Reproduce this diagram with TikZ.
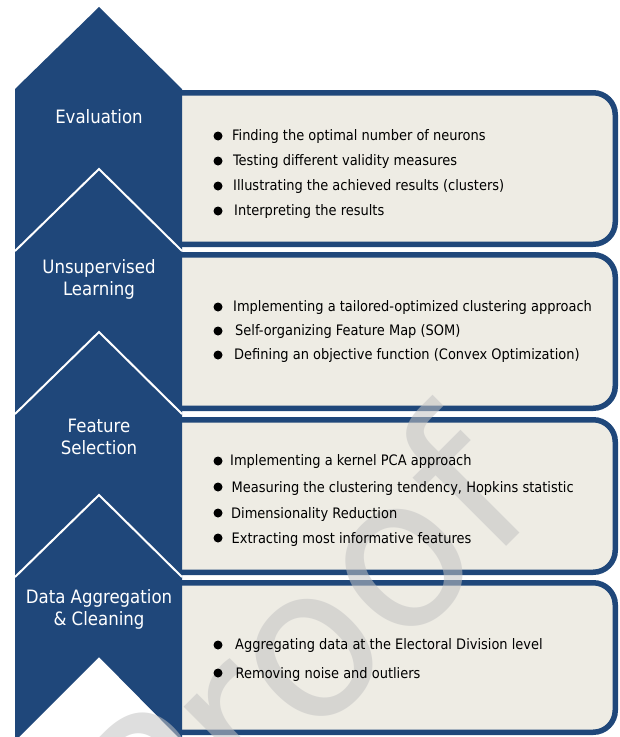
\documentclass[tikz,border=0pt]{standalone}
\usepackage{fontspec}
\setmainfont{DejaVu Sans Condensed}
\newfontfamily\wmfont{DejaVu Sans}
\definecolor{navy}{RGB}{31,71,122}
\definecolor{paper}{RGB}{238,236,228}
\definecolor{wmgrey}{RGB}{195,195,195}
\begin{document}
\begin{tikzpicture}[x=1bp,y=-1bp,
  lbl/.style={text=white, font=\fontsize{18.5}{22}\selectfont, align=center, inner sep=0},
  itm/.style={anchor=base west, font=\fontsize{14.5}{17}\selectfont, text=black, inner sep=0},
  bul/.style={circle, fill=black, inner sep=0, minimum size=9bp},
  panel/.style={draw=navy, line width=5.5bp, fill=paper, rounded corners=22bp},
  sepline/.style={draw=white, line width=2bp},
  wmk/.style={font=\wmfont\fontsize{210}{210}\selectfont, text=wmgrey, text opacity=0.55, inner sep=0}]
\useasboundingbox (0,0) rectangle (620,737);
\begin{scope}
\clip (0,0) rectangle (620,737);
% panels (left side hidden behind the column)
\path[panel] (182,92.75) -- (615.25,92.75) -- (615.25,244.25) -- (182,244.25);
\path[panel] (182,254.75) -- (615.25,254.75) -- (615.25,408.25) -- (182,408.25);
\path[panel] (182,419.75) -- (615.25,419.75) -- (615.25,572.25) -- (182,572.25);
\path[panel] (182,582.75) -- (615.25,582.75) -- (615.25,732.25) -- (182,732.25);
% column
\fill[navy] (15,89) -- (99,7) -- (182,89) -- (182,741) -- (99,657) -- (15,741) -- cycle;
\draw[sepline] (15,251) -- (99,169) -- (182,251);
\draw[sepline] (15,414) -- (99,332) -- (182,414);
\draw[sepline] (15,577) -- (99,495) -- (182,577);
% watermark
\node[wmk, rotate=45, anchor=base west] (wm) at (165,888) {Proof};
\end{scope}
% labels
\node[lbl] (l1) at (99,117) {Evaluation};
\node[lbl] (l2) at (99,279) {Unsupervised\\Learning};
\node[lbl] (l3) at (99,437) {Feature\\Selection};
\node[lbl] (l4) at (99,609) {Data Aggregation\\\& Cleaning};
% box 1
\node[bul] (b11) at (218,136) {};
\node[itm] (t11) at (232,140.5) {Finding the optimal number of neurons};
\node[bul] (b12) at (218,161) {};
\node[itm] (t12) at (233,165.5) {Testing different validity measures};
\node[bul] (b13) at (218,186) {};
\node[itm] (t13) at (233,190.5) {Illustrating the achieved results (clusters)};
\node[bul] (b14) at (218,211) {};
\node[itm] (t14) at (234,215.5) {Interpreting the results};
% box 2
\node[bul] (b21) at (218,307) {};
\node[itm] (t21) at (233,311.5) {Implementing a tailored-optimized clustering approach};
\node[bul] (b22) at (218,331) {};
\node[itm] (t22) at (235,335.5) {Self-organizing Feature Map (SOM)};
\node[bul] (b23) at (218,355) {};
\node[itm] (t23) at (234,359.5) {Defining an objective function (Convex Optimization)};
% box 3
\node[bul] (b31) at (218,461) {};
\node[itm] (t31) at (230,465.5) {Implementing a kernel PCA approach};
\node[bul] (b32) at (218,487) {};
\node[itm] (t32) at (231.5,492.5) {Measuring the clustering tendency, Hopkins statistic};
\node[bul] (b33) at (218,513) {};
\node[itm] (t33) at (231,518.5) {Dimensionality Reduction};
\node[bul] (b34) at (218,538) {};
\node[itm] (t34) at (231.5,543) {Extracting most informative features};
% box 4
\node[bul] (b41) at (218,645) {};
\node[itm] (t41) at (235,649.5) {Aggregating data at the Electoral Division level};
\node[bul] (b42) at (218,673) {};
\node[itm] (t42) at (235.5,678) {Removing noise and outliers};
\end{tikzpicture}
\end{document}
